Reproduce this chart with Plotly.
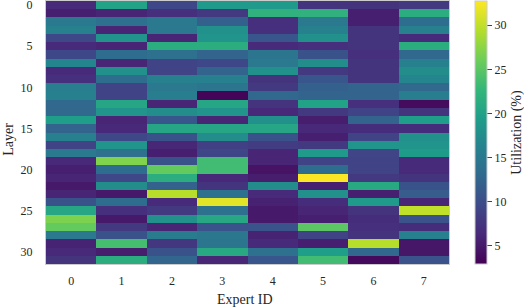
import plotly.graph_objects as go

experts = [0, 1, 2, 3, 4, 5, 6, 7]
layers = list(range(32))

util = [
    [6.5, 20, 9.5, 19, 19, 7.5, 7.5, 8],
    [5.5, 6, 7, 8, 22, 22, 5.5, 21.5],
    [15, 14, 15, 12, 7, 15, 5.5, 13.5],
    [16, 6, 15, 18, 7, 16, 7.5, 16],
    [9.5, 18.5, 6, 18.5, 11, 18, 7.5, 6.5],
    [6.5, 6, 21.5, 21.5, 6.5, 7, 7.5, 21.5],
    [9.5, 13.5, 14, 12.5, 14.5, 10.5, 7, 13],
    [16.5, 6, 9, 9.5, 15, 17.5, 7.5, 16],
    [6.5, 18, 9, 12.5, 18, 8, 7.5, 17.5],
    [7, 13.5, 16, 16, 7.5, 11, 7.5, 16.5],
    [15.5, 9, 15, 14.5, 8, 12, 12.5, 13],
    [16, 9, 15.5, 3.3, 13, 12.5, 12.5, 15.5],
    [13, 20.5, 6, 20.5, 7.5, 20, 7, 3.8],
    [13, 18.5, 17.5, 18.5, 6.3, 8, 9, 7.5],
    [19.5, 6, 11, 6, 18, 5.3, 12.5, 19.5],
    [12.5, 6.3, 20.5, 20.5, 20.5, 6.3, 6.8, 6.8],
    [16, 9.5, 10.5, 17.5, 10.5, 5.5, 9, 18],
    [9, 18.5, 6.2, 8.7, 8.3, 8, 18.5, 18.5],
    [15, 14, 5.5, 9.3, 6, 19, 9.2, 19.3],
    [6.3, 27, 10.5, 23.5, 6, 9, 9, 6.5],
    [5.5, 13.5, 25.5, 23.5, 4.5, 13.5, 9, 6.5],
    [6, 9.5, 21.5, 6.3, 5.3, 32.7, 8, 7.5],
    [5, 17.5, 12.3, 7.5, 17.5, 5.5, 21, 10.5],
    [6, 5, 29.5, 14, 6.5, 18, 5.5, 11.7],
    [10.5, 13.5, 6.5, 31.5, 5.7, 6.8, 19, 6],
    [20.5, 7, 8, 14, 5, 6, 7.5, 30],
    [26.8, 5, 18, 20.7, 5, 5.5, 6.8, 10.7],
    [25.5, 8, 6, 10.7, 10.7, 25, 7, 6.8],
    [15, 10.5, 15.3, 14.8, 5.8, 9, 7.5, 16],
    [5.8, 23.8, 7.8, 14.7, 6.5, 5.5, 29.5, 4.8],
    [6.3, 5.3, 10.5, 21, 14, 19.5, 13, 4.7],
    [7.5, 21.5, 12.7, 6.2, 11, 23.5, 3.7, 10.7],
]

y_ticks = [0, 5, 10, 15, 20, 25, 30]
cbar_ticks = [5, 10, 15, 20, 25, 30]

FONT = "Liberation Serif"
TXT = "#262626"

W, H = 524, 307
L, R, T, B = 46, 75, 1, 42.5
PW = W - L - R
PH = H - T - B

fig = go.Figure(go.Heatmap(
    z=util, x=experts, y=layers,
    colorscale="Viridis", zmin=2.95, zmax=32.75,
    colorbar=dict(
        thickness=12, len=1, lenmode="fraction",
        x=475 / W, xref="container", xanchor="left", xpad=0,
        y=0.5, yref="paper", yanchor="middle", ypad=0,
        outlinewidth=1, outlinecolor="#cccccc",
        ticks="outside", ticklen=5, tickwidth=1, tickcolor="#444444",
        tickprefix="\u00a0\u00a0",
        tickvals=cbar_ticks, tickfont=dict(family=FONT, size=12, color=TXT),
    ),
    hoverongaps=False,
))

fig.update_layout(
    width=W, height=H,
    margin=dict(l=L, r=R, t=T, b=B, autoexpand=False),
    paper_bgcolor="white", plot_bgcolor="white",
    font=dict(family=FONT, size=12, color=TXT),
    xaxis=dict(
        tickvals=experts, ticks="", ticklabelstandoff=6, automargin=False,
        ticklabeloverflow="allow",
        showgrid=True, gridcolor="rgba(255,255,255,0.35)", gridwidth=1,
        layer="above traces", zeroline=False,
        showline=True, mirror=True, linecolor="#cccccc", linewidth=1,
        tickfont=dict(family=FONT, size=12, color=TXT),
    ),
    yaxis=dict(
        tickvals=y_ticks, autorange="reversed", ticks="", ticklabelstandoff=10,
        automargin=False, ticklabeloverflow="allow",
        showgrid=True, gridcolor="rgba(255,255,255,0.35)", gridwidth=1,
        layer="above traces", zeroline=False,
        showline=True, mirror=True, linecolor="#cccccc", linewidth=1,
        tickfont=dict(family=FONT, size=12, color=TXT),
    ),
    annotations=[
        dict(text="Utilization (%)", textangle=-90, showarrow=False,
             xref="paper", yref="paper", x=(517 - L) / PW, y=1 - (133 - T) / PH,
             xanchor="center", yanchor="middle",
             font=dict(family=FONT, size=14, color=TXT)),
        dict(text="Expert ID", showarrow=False,
             xref="paper", yref="paper", x=(245 - L) / PW, y=1 - (300 - T) / PH,
             xanchor="center", yanchor="middle",
             font=dict(family=FONT, size=14, color=TXT)),
        dict(text="Layer", textangle=-90, showarrow=False,
             xref="paper", yref="paper", x=(9 - L) / PW, y=1 - (140 - T) / PH,
             xanchor="center", yanchor="middle",
             font=dict(family=FONT, size=14, color=TXT)),
    ],
)

fig.write_html("out.html", config={"displayModeBar": False},
               post_script="document.body.style.margin='0px';")
